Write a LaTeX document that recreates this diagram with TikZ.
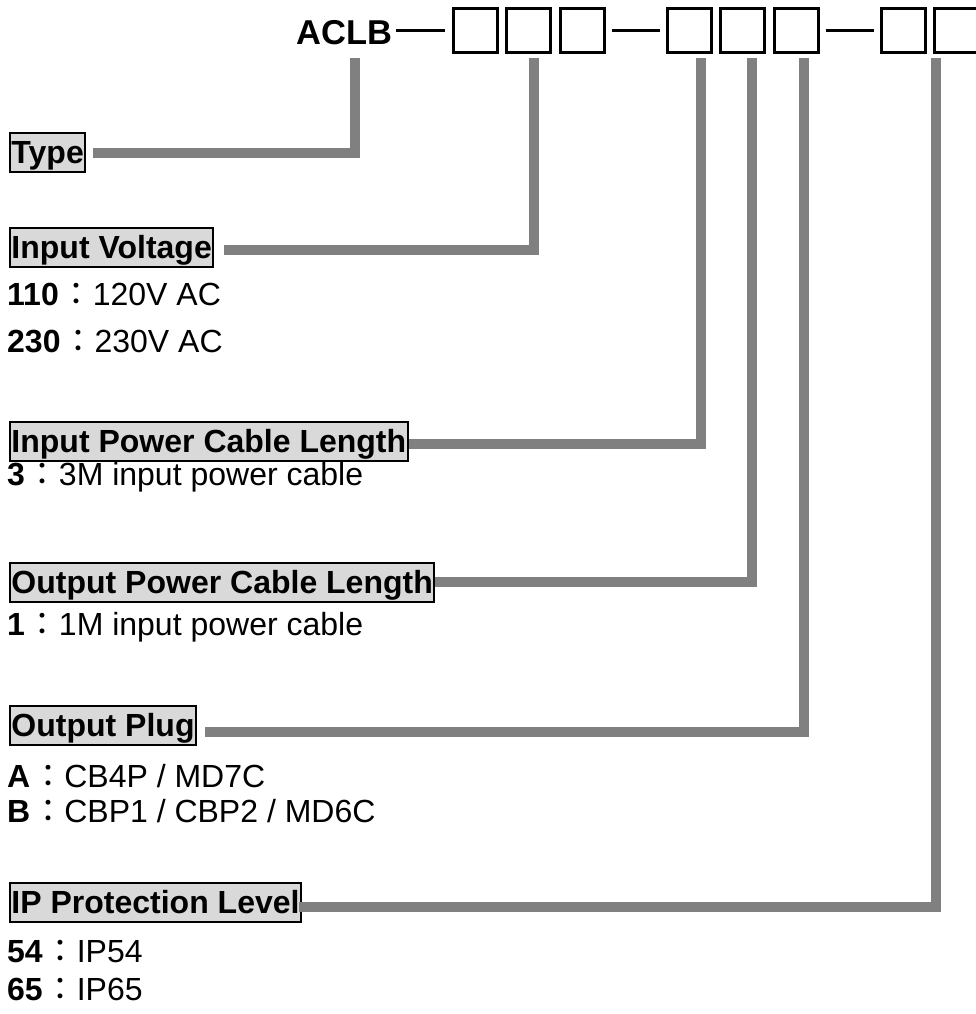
\documentclass[tikz,border=0pt]{standalone}
\usepackage{fontspec}
\setmainfont{Liberation Sans}
\newfontfamily\cjk{Noto Sans CJK TC}
\usetikzlibrary{positioning}
\definecolor{linkgray}{HTML}{808080}
\definecolor{tagfill}{HTML}{D9D9D9}
\newcommand{\opt}[2]{\textbf{#1}\hspace{2pt}{\cjk ：}#2}

\begin{document}
\begin{tikzpicture}[x=1pt, y=-1pt, font=\fontsize{32}{38}\selectfont, slot/.style={draw, line width=3pt, minimum size=44pt, inner sep=0pt}, dashln/.style={line width=2.5pt}, tag/.style={draw, fill=tagfill, line width=2pt, inner xsep=1.5pt, inner ysep=2pt, text height=28pt, text depth=7pt, font=\fontsize{32}{38}\selectfont\bfseries, anchor=base west}, conn/.style={draw=linkgray, line width=10pt}, item/.style={anchor=base west, inner sep=0pt}]
\useasboundingbox (0,0) rectangle (976,1014);
% model code
\node[anchor=base west, inner sep=0pt, font=\fontsize{34.5}{40}\selectfont\bfseries] (aclb) at (296,45) {ACLB};
\node[slot] (b1) at (475,30.5) {}; \node[slot] (b2) at (528.5,30.5) {}; \node[slot] (b3) at (582,30.5) {};
\node[slot] (b4) at (689,30.5) {}; \node[slot] (b5) at (742,30.5) {}; \node[slot] (b6) at (796,30.5) {};
\node[slot] (b7) at (903,30.5) {}; \node[slot] (b8) at (956,30.5) {};
\draw[dashln, shorten <=4pt, shorten >=7pt] (aclb.east |- b1.west) -- (b1.west); \draw[dashln, shorten <=6pt, shorten >=6pt] (b3.east) -- (b4.west); \draw[dashln, shorten <=6pt, shorten >=6pt] (b6.east) -- (b7.west);
% option groups
\node[tag] (type) at (9,163) {Type};
\node[tag] (involt) at (9,258) {Input Voltage};
\node[item] (v110) at (7,305) {\opt{110}{120V AC}};
\node[item] (v230) at (7,352) {\opt{230}{230V AC}};
\node[tag] (inlen) at (9,452) {Input Power Cable Length};
\node[item] (len3) at (7,485) {\opt{3}{3M input power cable}};
\node[tag] (outlen) at (9,593) {Output Power Cable Length};
\node[item] (len1) at (7,635) {\opt{1}{1M input power cable}};
\node[tag] (plug) at (9,736) {Output Plug};
\node[item] (plugA) at (7,787) {\opt{A}{CB4P / MD7C}};
\node[item] (plugB) at (7,822) {\opt{B}{CBP1 / CBP2 / MD6C}};
\node[tag] (iplvl) at (9,913) {IP Protection Level};
\node[item] (ip54) at (7,962) {\opt{54}{IP54}};
\node[item] (ip65) at (7,1000) {\opt{65}{IP65}};
% leaders
\draw[conn] ([shift={(59,12)}]aclb.south west) |- ([shift={(7,0.5)}]type.east);
\draw[conn] ([shift={(5.5,4.5)}]b2.south) |- ([shift={(10,2.5)}]involt.east);
\draw[conn] ([shift={(12,4.5)}]b4.south) |- ([shift={(0,2.5)}]inlen.east);
\draw[conn] ([shift={(10,4.5)}]b5.south) |- ([shift={(0,-0.5)}]outlen.east);
\draw[conn] ([shift={(8,4.5)}]b6.south) |- ([shift={(8,6.5)}]plug.east);
\draw[conn] ([shift={(-20,4.5)}]b8.south) |- ([shift={(-3,4.5)}]iplvl.east);
\end{tikzpicture}
\end{document}
